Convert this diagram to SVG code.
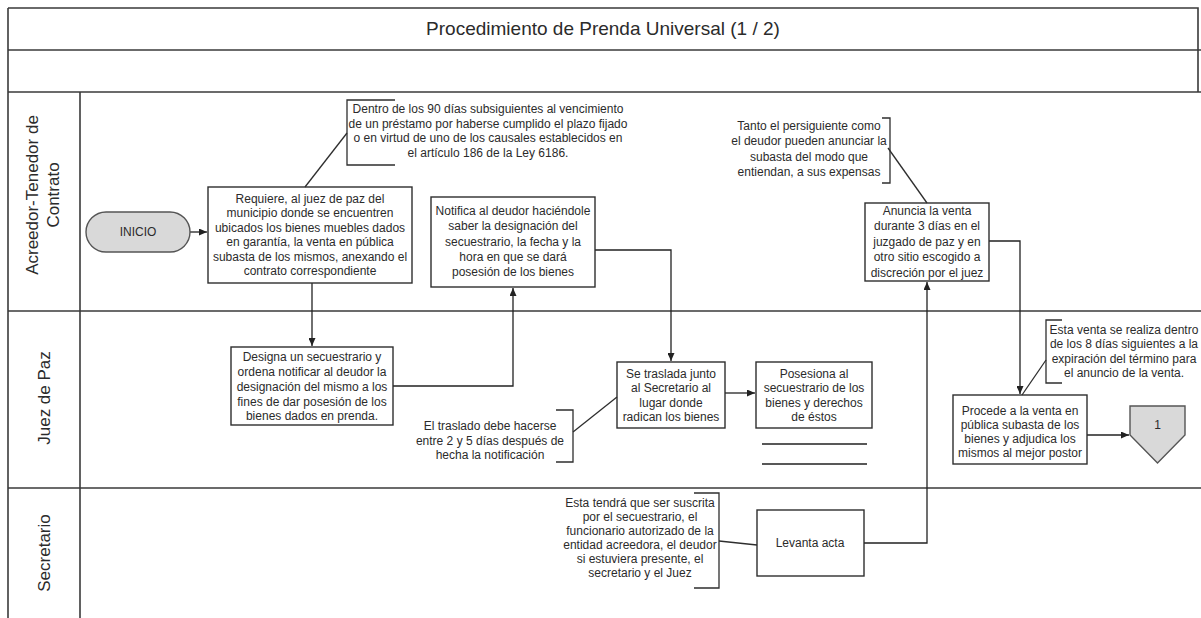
<svg xmlns="http://www.w3.org/2000/svg" width="1201" height="618" viewBox="0 0 1201 618">
  <defs>
    <style>
      .frame { fill: none; stroke: #3a3a3a; stroke-width: 1.6; }
      .box { fill: #ffffff; stroke: #2e2e2e; stroke-width: 1.4; }
      .term { fill: #d9d9d9; stroke: #555555; stroke-width: 1.4; }
      .wire { fill: none; stroke: #222222; stroke-width: 1.3; }
      .note { fill: none; stroke: #2e2e2e; stroke-width: 1.3; }
      .t { font-family: "Liberation Sans", Arial, sans-serif; font-size: 12px; fill: #2b2b2b; text-anchor: middle; }
      .title { font-family: "Liberation Sans", Arial, sans-serif; font-size: 19px; fill: #2b2b2b; text-anchor: middle; }
      .lane { font-family: "Liberation Sans", Arial, sans-serif; font-size: 17px; fill: #2b2b2b; text-anchor: middle; }
    </style>
    <marker id="arrow" markerUnits="userSpaceOnUse" markerWidth="8" markerHeight="7" refX="8" refY="3.5" orient="auto">
      <path d="M0,0 L8,3.5 L0,7 z" fill="#222222"/>
    </marker>
  </defs>

  <rect x="0" y="0" width="1201" height="618" fill="#ffffff"/>

  <!-- Pool frame: title band, empty band and three swimlanes -->
  <g id="pool">
    <path class="frame" d="M8,8 H1198 V92"/>
    <path class="frame" d="M8,8 V618"/>
    <path class="frame" d="M8,50 H1201"/>
    <path class="frame" d="M8,92 H1201"/>
    <path class="frame" d="M8,311 H1201"/>
    <path class="frame" d="M8,488 H1201"/>
    <path class="frame" d="M80,92 V618"/>
    <text class="title" x="603" y="35">Procedimiento de Prenda Universal (1 / 2)</text>
    <text class="lane" transform="translate(38,195) rotate(-90)">Acreedor-Tenedor de</text>
    <text class="lane" transform="translate(59,195) rotate(-90)">Contrato</text>
    <text class="lane" transform="translate(50,398) rotate(-90)">Juez de Paz</text>
    <text class="lane" transform="translate(50,553) rotate(-90)">Secretario</text>
  </g>

  <!-- Connectors -->
  <g id="connectors">
    <path class="wire" d="M190,232 H207" marker-end="url(#arrow)"/>
    <path class="wire" d="M312,283 V346" marker-end="url(#arrow)"/>
    <path class="wire" d="M393,386 H513 V288" marker-end="url(#arrow)"/>
    <path class="wire" d="M595,250 H671 V361" marker-end="url(#arrow)"/>
    <path class="wire" d="M725,393 H755" marker-end="url(#arrow)"/>
    <path class="wire" d="M864,543 H927 V282" marker-end="url(#arrow)"/>
    <path class="wire" d="M989,241 H1020 V394" marker-end="url(#arrow)"/>
    <path class="wire" d="M1087,435 H1129" marker-end="url(#arrow)"/>
  </g>

  <!-- Process nodes -->
  <g id="inicio">
    <rect class="term" x="86" y="212" width="104" height="40" rx="20"/>
    <text class="t" x="138" y="236">INICIO</text>
  </g>

  <g id="requiere">
    <rect class="box" x="208" y="187" width="204" height="96"/>
    <text class="t" x="310" y="202.5">Requiere, al juez de paz del</text>
    <text class="t" x="310" y="217">municipio donde se encuentren</text>
    <text class="t" x="310" y="231.5">ubicados los bienes muebles dados</text>
    <text class="t" x="310" y="246">en garantía, la venta en pública</text>
    <text class="t" x="310" y="260.5">subasta de los mismos, anexando el</text>
    <text class="t" x="310" y="275">contrato correspondiente</text>
  </g>

  <g id="notifica">
    <rect class="box" x="431" y="197" width="164" height="90"/>
    <text class="t" x="513" y="215">Notifica al deudor haciéndole</text>
    <text class="t" x="513" y="230">saber la designación del</text>
    <text class="t" x="513" y="245.5">secuestrario, la fecha y la</text>
    <text class="t" x="513" y="261">hora en que se dará</text>
    <text class="t" x="513" y="276">posesión de los bienes</text>
  </g>

  <g id="anuncia">
    <rect class="box" x="865" y="203" width="124" height="78"/>
    <text class="t" x="927" y="214.5">Anuncia la venta</text>
    <text class="t" x="927" y="230">durante 3 días en el</text>
    <text class="t" x="927" y="245.5">juzgado de paz y en</text>
    <text class="t" x="927" y="261">otro sitio escogido a</text>
    <text class="t" x="927" y="276.5">discreción por el juez</text>
  </g>

  <g id="designa">
    <rect class="box" x="231" y="347" width="162" height="78"/>
    <text class="t" x="312" y="361">Designa un secuestrario y</text>
    <text class="t" x="312" y="376">ordena notificar al deudor la</text>
    <text class="t" x="312" y="391">designación del mismo a los</text>
    <text class="t" x="312" y="405.5">fines de dar posesión de los</text>
    <text class="t" x="312" y="420">bienes dados en prenda.</text>
  </g>

  <g id="traslada">
    <rect class="box" x="617" y="362" width="108" height="66"/>
    <text class="t" x="671" y="378">Se traslada junto</text>
    <text class="t" x="671" y="392">al Secretario al</text>
    <text class="t" x="671" y="406.5">lugar donde</text>
    <text class="t" x="671" y="421">radican los bienes</text>
  </g>

  <g id="posesiona">
    <rect class="box" x="756" y="362" width="116" height="66"/>
    <text class="t" x="814" y="378">Posesiona al</text>
    <text class="t" x="814" y="392">secuestrario de los</text>
    <text class="t" x="814" y="406.5">bienes y derechos</text>
    <text class="t" x="814" y="421">de éstos</text>
    <path class="wire" d="M762,444 H867 M762,464 H867"/>
  </g>

  <g id="procede">
    <rect class="box" x="953" y="395" width="134" height="69"/>
    <text class="t" x="1020" y="415">Procede a la venta en</text>
    <text class="t" x="1020" y="429">pública subasta de los</text>
    <text class="t" x="1020" y="443">bienes y adjudica los</text>
    <text class="t" x="1020" y="457">mismos al mejor postor</text>
  </g>

  <g id="offpage">
    <polygon class="term" points="1130,406 1185,406 1185,435 1157.5,463 1130,435"/>
    <text class="t" x="1157.5" y="429">1</text>
  </g>

  <g id="levanta">
    <rect class="box" x="757" y="510" width="107" height="66"/>
    <text class="t" x="810" y="547">Levanta acta</text>
  </g>

  <!-- Text annotations with brackets and leaders -->
  <g id="note-plazo">
    <path class="note" d="M395,100 H347 V165 H395"/>
    <path class="note" d="M347,133 L305,187"/>
    <text class="t" x="488" y="113">Dentro de los 90 días subsiguientes al vencimiento</text>
    <text class="t" x="488" y="127.5">de un préstamo por haberse cumplido el plazo fijado</text>
    <text class="t" x="488" y="142">o en virtud de uno de los causales establecidos en</text>
    <text class="t" x="488" y="156.5">el artículo 186 de la Ley 6186.</text>
  </g>

  <g id="note-anuncio">
    <path class="note" d="M882,118 H890 V183 H882"/>
    <path class="note" d="M888,148 L927,203"/>
    <text class="t" x="809" y="130">Tanto el persiguiente como</text>
    <text class="t" x="809" y="145">el deudor pueden anunciar la</text>
    <text class="t" x="809" y="161">subasta del modo que</text>
    <text class="t" x="809" y="176">entiendan, a sus expensas</text>
  </g>

  <g id="note-traslado">
    <path class="note" d="M556,410 H573 V462 H556"/>
    <path class="note" d="M573,432 L617,397"/>
    <text class="t" x="490" y="430">El traslado debe hacerse</text>
    <text class="t" x="490" y="444.5">entre 2 y 5 días después de</text>
    <text class="t" x="490" y="459">hecha la notificación</text>
  </g>

  <g id="note-plazo-venta">
    <path class="note" d="M1062,320 H1046 V383 H1062"/>
    <path class="note" d="M1046,360 L1022,395"/>
    <text class="t" x="1124" y="334">Esta venta se realiza dentro</text>
    <text class="t" x="1124" y="348">de los 8 días siguientes a la</text>
    <text class="t" x="1124" y="362.5">expiración del término para</text>
    <text class="t" x="1124" y="377">el anuncio de la venta.</text>
  </g>

  <g id="note-acta">
    <path class="note" d="M694,493 H719 V588 H694"/>
    <path class="note" d="M719,541 L757,545"/>
    <text class="t" x="640" y="507">Esta tendrá que ser suscrita</text>
    <text class="t" x="640" y="521">por el secuestrario, el</text>
    <text class="t" x="640" y="535">funcionario autorizado de la</text>
    <text class="t" x="640" y="549">entidad acreedora, el deudor</text>
    <text class="t" x="640" y="563">si estuviera presente, el</text>
    <text class="t" x="640" y="577">secretario y el Juez</text>
  </g>
</svg>
